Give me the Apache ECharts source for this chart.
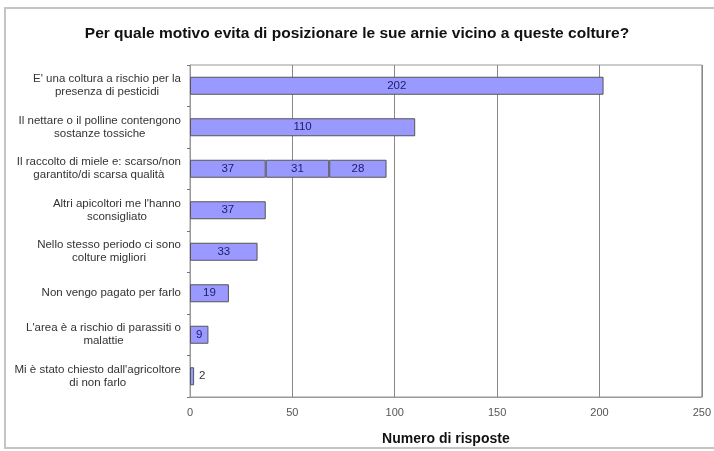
<!DOCTYPE html>
<html>
<head>
<meta charset="utf-8">
<script src="https://cdn.jsdelivr.net/npm/echarts@6/dist/echarts.min.js"></script>
<style>
  html, body { margin: 0; padding: 0; background: #fff; }
  #chart { width: 714px; height: 451px; }
</style>
</head>
<body>
<div id="chart"></div>
<script>
// Motivi (dall'alto verso il basso)
const categorie = [
    "E' una coltura a rischio per la\npresenza di pesticidi",
    "Il nettare o il polline contengono\nsostanze tossiche",
    "Il raccolto di miele e: scarso/non\ngarantito/di scarsa qualità",
    "Altri apicoltori me l'hanno\nsconsigliato",
    "Nello stesso periodo ci sono\ncolture migliori",
    "Non vengo pagato per farlo",
    "L'area è a rischio di parassiti o\nmalattie",
    "Mi è stato chiesto dall'agricoltore\ndi non farlo"
];

// Prima parte di ogni barra
const risposte = [202, 110, 37, 37, 33, 19, 9, 2];
// Parti aggiuntive della barra "raccolto di miele"
const seconda = [null, null, 31, null, null, null, null, null];
const terza = [null, null, 28, null, null, null, null, null];

const tickAsseX = [0, 50, 100, 150, 200, 250];

const colore = '#9999ff';
const bordo = '#555';
const font = 'Liberation Sans, Arial, sans-serif';

function serie(nome, valori) {
    return {
        name: nome,
        type: 'bar',
        stack: 'tot',
        barWidth: 18,
        itemStyle: { color: colore, borderColor: bordo, borderWidth: 1 },
        label: {
            show: true,
            position: 'inside',
            color: '#1c1c6a',
            fontSize: 11.5,
            fontFamily: font
        },
        data: valori.map(v => {
            // le barre troppo corte hanno l'etichetta a destra
            if (v !== null && v < 5) {
                return { value: v, label: { position: 'right', color: '#333' } };
            }
            return v;
        })
    };
}

const chart = echarts.init(document.getElementById('chart'));

chart.setOption({
    animation: false,
    backgroundColor: '#fff',
    title: {
        text: 'Per quale motivo evita di posizionare le sue arnie vicino a queste colture?',
        left: 'center',
        top: 21,
        // un po' spostato a destra come nell'originale
        padding: [5, 0, 5, 10],
        textStyle: {
            fontSize: 15.5,
            fontWeight: 'bold',
            color: '#111',
            fontFamily: font
        }
    },
    graphic: [{
        type: 'rect',
        shape: { x: 5, y: 8, width: 720, height: 440 },
        style: { fill: 'none', stroke: '#c4c4c4', lineWidth: 2 },
        silent: true
    }],
    grid: {
        left: 190,
        right: 11,
        top: 65,
        bottom: 54,
        show: true,
        borderColor: '#999',
        borderWidth: 1
    },
    xAxis: {
        type: 'value',
        min: tickAsseX[0],
        max: tickAsseX[tickAsseX.length - 1],
        interval: 50,
        name: 'Numero di risposte',
        nameLocation: 'middle',
        nameGap: 35,
        nameTextStyle: {
            fontSize: 14,
            fontWeight: 'bold',
            color: '#111',
            fontFamily: font
        },
        axisLine: { show: true, lineStyle: { color: '#999' } },
        axisTick: { show: false },
        axisLabel: {
            color: '#555',
            fontSize: 11,
            margin: 10,
            fontFamily: font
        },
        splitLine: { show: true, lineStyle: { color: '#888', width: 1 } }
    },
    yAxis: {
        type: 'category',
        inverse: true,
        data: categorie,
        axisLine: { show: true, lineStyle: { color: '#999' } },
        axisTick: { show: true, length: 3, lineStyle: { color: '#777' } },
        axisLabel: {
            color: '#333',
            margin: 9,
            align: 'right',
            // righe centrate tra loro, blocco allineato a destra
            formatter: v => v.split('\n').map(r => '{c|' + r + '}').join('\n'),
            rich: {
                c: {
                    align: 'center',
                    fontSize: 11.5,
                    lineHeight: 13,
                    color: '#333',
                    fontFamily: font
                }
            }
        },
        splitLine: { show: false }
    },
    series: [
        serie('a', risposte),
        serie('b', seconda),
        serie('c', terza)
    ]
});

window.addEventListener('resize', function () {
    chart.resize();
});
</script>
</body>
</html>
